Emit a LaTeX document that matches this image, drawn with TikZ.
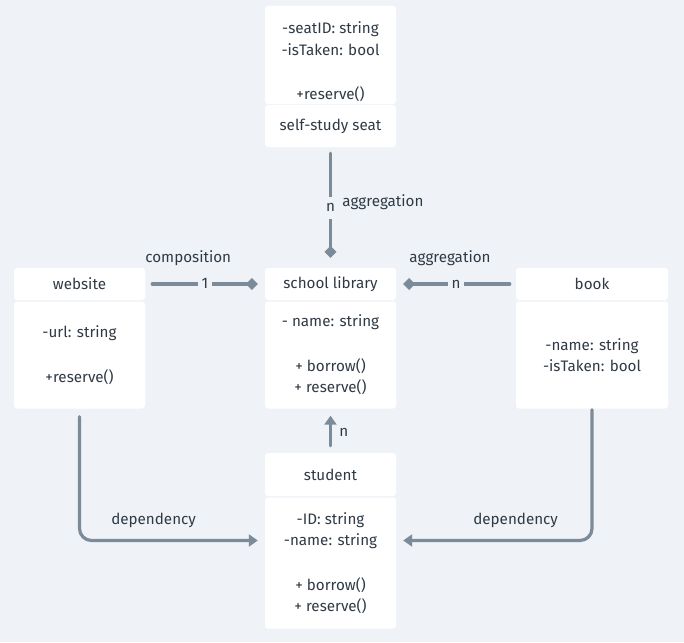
\documentclass[tikz,border=0pt]{standalone}
\usepackage{fontspec}
\setmainfont{Fira Sans}
\usetikzlibrary{arrows.meta}
\definecolor{canvas}{HTML}{EFF3F7}
\definecolor{ink}{HTML}{2F3A45}
\definecolor{wire}{HTML}{7C8B99}
\tikzstyle{class_head} = [rectangle, rounded corners=3pt, fill=white, text=ink, minimum width=131pt, minimum height=32pt, inner sep=0pt, align=center]
\tikzstyle{class_body} = [class_head, minimum height=107pt]
\tikzstyle{rel_line} = [line width=3.2pt, line cap=round, draw=wire, text=ink]
\tikzstyle{whole_part} = [rel_line, -{Diamond[length=12pt, width=12pt]}]
\tikzstyle{uses} = [rel_line, -{Triangle[length=9pt, width=12pt]}]
\tikzstyle{mult} = [fill=canvas, inner xsep=4pt, inner ysep=5pt, text height=10pt, text depth=2pt]

\begin{document}
\begin{tikzpicture}[x=1pt, y=-1pt, font=\fontsize{15.2}{21.5}\selectfont]

    \fill [canvas] (0,0) rectangle (684,642);
    \useasboundingbox (0,0) rectangle (684,642);

    \node (seat_attr) [class_body, minimum height=98pt] at (330.5,55) {};
    \node (seat_attr_text) [text=ink, align=center, yshift=-7pt] at (seat_attr.center) {-seatID: string\\-isTaken: bool\\[23pt]+reserve()};
    \node (seat_head) [class_head, minimum height=42pt] at (330.5,126) {self-study seat};

    \node (web_head) [class_head] at (79.5,284) {website};
    \node (web_body) [class_body] at (79.5,355) {-url: string\\[23pt]+reserve()};

    \node (lib_head) [class_head] at (330.5,284) {school library};
    \node (lib_body) [class_body] at (330.5,355) {- name: string\\[23pt]+ borrow()\\+ reserve()};

    \node (book_head) [class_head, minimum width=152pt] at (592,284) {book};
    \node (book_body) [class_body, minimum width=152pt] at (592,355) {-name: string\\-isTaken: bool};

    \node (stu_head) [class_head, minimum height=43pt] at (330.5,474.5) {student};
    \node (stu_body) [class_body, minimum height=131pt] at (330.5,563) {-ID: string\\-name: string\\[23pt]+ borrow()\\+ reserve()};

    \draw [whole_part, shorten <=6pt, shorten >=10pt] (seat_head) -- node [mult] {n} node [pos=.46, anchor=west, xshift=7pt] {aggregation} (lib_head);
    \draw [whole_part, shorten <=7pt, shorten >=7pt] (web_head) -- node [mult] {1} node [pos=.36, yshift=26pt] {composition} (lib_head);
    \draw [whole_part, shorten <=6pt, shorten >=7pt] (book_head) -- node [mult] {n} node [pos=.55, yshift=26pt] {aggregation} (lib_head);
    \draw [uses, shorten <=7pt, shorten >=7pt] (stu_head) -- node [pos=.47, anchor=west, xshift=4pt] {n} (lib_body);

    \draw [uses, rounded corners=12pt, shorten <=8pt, shorten >=7pt] (web_body) |- node [pos=.70, yshift=20pt] {dependency} ([yshift=22.5pt]stu_body.west);
    \draw [uses, rounded corners=12pt, shorten <=1pt, shorten >=7pt] (book_body) |- node [pos=.695, yshift=20pt] {dependency} ([yshift=22.5pt]stu_body.east);

\end{tikzpicture}
\end{document}
